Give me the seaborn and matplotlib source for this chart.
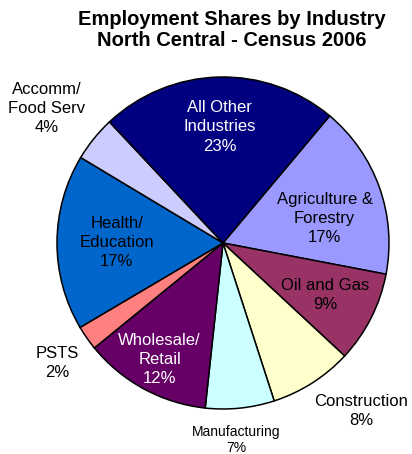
import numpy as np
import seaborn as sns
import matplotlib
matplotlib.use("Agg")
import matplotlib.pyplot as plt

# shares (%), clockwise starting at Agriculture
industries = ["Agriculture &\nForestry", "Oil and Gas", "Construction", "Manufacturing",
              "Wholesale/\nRetail", "PSTS", "Health/\nEducation", "Accomm/\nFood Serv",
              "All Other\nIndustries"]
shares = [16.9, 8.9, 8.1, 6.7, 12.4, 2.4, 17.1, 4.4, 23.1]
colors = ["#9999FF", "#993366", "#FFFFCC", "#CCFFFF", "#660066",
          "#FF8080", "#0066CC", "#CCCCFF", "#000080"]

# label style per slice (distance from centre, angle nudge in degrees)
label_dist = [0.63, 0.69, 1.31, 1.19, 0.80, 1.23, 0.64, 1.335, 0.70]
label_turn = [-6, 0, 7, -2, 0, 1, 0, 1.5, 0]
label_color = ["black", "black", "black", "black", "white", "black", "black", "black", "white"]
label_size = [12, 12, 12, 10, 12, 12, 12, 12, 12]

sns.set_theme(style="white")
plt.rcParams["font.family"] = ["Liberation Sans", "DejaVu Sans"]

W, H = 412, 454
fig = plt.figure(figsize=(W / 100, H / 100), dpi=100)
cx, cy, r = 223, 243, 166
ax = fig.add_axes([(cx - r) / W, (H - cy - r) / H, 2 * r / W, 2 * r / H])

wedges, _ = ax.pie(shares, colors=sns.color_palette(colors), startangle=50,
                   counterclock=False,
                   wedgeprops=dict(edgecolor="black", linewidth=1.1))
ax.set_xlim(-1, 1)
ax.set_ylim(-1, 1)
ax.set_aspect("equal")

for w, name, v, d, t, c, fs in zip(wedges, industries, shares, label_dist,
                                   label_turn, label_color, label_size):
    mid = np.deg2rad((w.theta1 + w.theta2) / 2 + t)
    ax.text(d * np.cos(mid), d * np.sin(mid), f"{name}\n{v:.0f}%",
            ha="center", va="center", color=c, fontsize=fs,
            linespacing=1.15 if fs < 12 else 1.35)

fig.text(232 / W, 1 - 30 / H, "Employment Shares by Industry\nNorth Central - Census 2006",
         ha="center", va="center", fontsize=14.5, fontweight="bold", color="black",
         linespacing=1.1)

fig.savefig("out.png", dpi=100, facecolor="white")
